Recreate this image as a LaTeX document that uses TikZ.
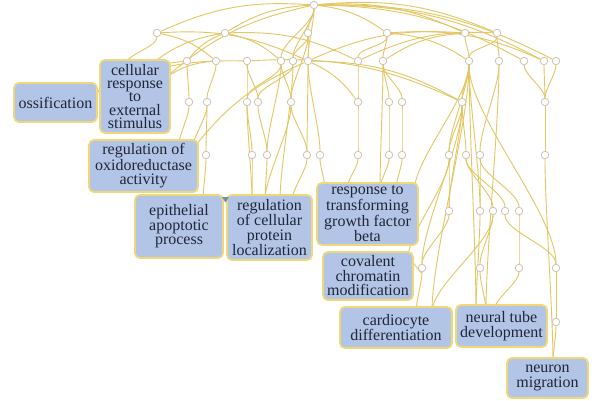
\documentclass[tikz,border=0pt]{standalone}
\usepackage{fontspec}
\setmainfont{Liberation Serif}
\usetikzlibrary{calc}
\pgfdeclarelayer{back}
\pgfdeclarelayer{bg}
\pgfsetlayers{back,bg,main}
\definecolor{boxfill}{RGB}{178,197,230}
\definecolor{boxline}{RGB}{240,216,120}
\definecolor{edgecol}{RGB}{228,198,98}
\definecolor{dotline}{RGB}{205,198,180}
\definecolor{textcol}{RGB}{32,38,54}
\definecolor{trifill}{RGB}{120,140,175}
\tikzset{
  box/.style={draw=boxline, line width=1.8pt, fill=boxfill, rounded corners=5pt,
    inner sep=0pt, align=center, text=textcol, font=\fontsize{16}{14.5}\selectfont},
  dot/.style={circle, draw=dotline, fill=white, line width=0.8pt, minimum size=7.5pt, inner sep=0pt},
  edge/.style={draw=edgecol, line width=0.9pt},
}
\newcommand\edL[2]{\draw[edge] (#1) to[bend right=14] (#2);}
\newcommand\edR[2]{\draw[edge] (#1) to[bend left=14] (#2);}
\newcommand\edV[2]{\draw[edge] (#1) to[out=-90,in=90,looseness=0.6] (#2);}
\begin{document}
\begin{tikzpicture}[x=1pt,y=1pt]
\useasboundingbox (0,0) rectangle (596,400);
\begin{pgfonlayer}{back}
\fill[white] (0,0) rectangle (596,400);
\end{pgfonlayer}
% dots
\node[dot] (r) at (314,395) {};
\foreach \n/\x in {a1/157,a2/225,a3/308,a4/387,a5/465,a6/497}
  \node[dot] (\n) at (\x,367) {};
\foreach \n/\x in {b1/187,b2/216,b3/247,b4/281,b5/293,b6/308,b7/358,b8/383,b9/469,b10/499,b11/524,b12/544,b13/556}
  \node[dot] (\n) at (\x,339) {};
\foreach \n/\x in {c1/189,c2/207,c3/247,c4/258,c5/291,c6/358,c7/389,c8/402,c9/462,c10/545}
  \node[dot] (\n) at (\x,298) {};
\foreach \n/\x in {d1/206,d2/252,d3/267,d4/307,d5/320,d6/358,d7/389,d8/402,d9/449,d10/466,d11/480,d12/545}
  \node[dot] (\n) at (\x,245) {};
\foreach \n/\x in {e1/449,e2/480,e3/493,e4/505,e5/519}
  \node[dot] (\n) at (\x,189) {};
\foreach \n/\x in {f1/422,f2/480,f3/519,f4/556}
  \node[dot] (\n) at (\x,132) {};
\node[dot] (g1) at (556,78) {};
% boxes
\node[box, minimum width=83pt, minimum height=39pt] (oss) at (55.5,297.5) {ossification};
\node[box, minimum width=70pt, minimum height=73pt, font=\fontsize{16}{13.4}\selectfont] (cel) at (135,303.5) {cellular\\response\\to\\external\\stimulus};
\node[box, minimum width=109pt, minimum height=52pt] (oxi) at (143.5,234) {regulation of\\oxidoreductase\\activity};
\node[box, minimum width=88pt, minimum height=63pt] (epi) at (179,173.5) {epithelial\\apoptotic\\process};
\node[box, minimum width=85pt, minimum height=65pt] (rcp) at (269.5,172.5) {regulation\\of cellular\\protein\\localization};
\node[box, minimum width=101pt, minimum height=62pt] (tgf) at (367.5,186) {response to\\transforming\\growth factor\\beta};
\node[box, minimum width=90pt, minimum height=48pt] (cov) at (368,124) {covalent\\chromatin\\modification};
\node[box, minimum width=112pt, minimum height=41pt] (car) at (396,72.5) {cardiocyte\\differentiation};
\node[box, minimum width=91pt, minimum height=42pt] (ntd) at (501.5,74) {neural tube\\development};
\node[box, minimum width=81pt, minimum height=40pt] (neu) at (547.5,22) {neuron\\migration};
\fill[trifill] (222,203) -- (229,203) -- (225.5,197.5) -- cycle;
% entry points
\coordinate (ossE) at (92,305);
\coordinate (celT1) at (125,335);
\coordinate (celT2) at (150,335);
\coordinate (celT3) at (165,322);
\coordinate (oxiT1) at (178,252);
\coordinate (oxiT2) at (192,250);
\coordinate (epiT) at (203,200);
\coordinate (rcpT1) at (252,200);
\coordinate (rcpT2) at (265,200);
\coordinate (rcpT3) at (280,200);
\coordinate (rcpT4) at (292,200);
\coordinate (tgfT1) at (325,212);
\coordinate (tgfT2) at (347,212);
\coordinate (tgfT3) at (380,212);
\coordinate (tgfT4) at (396,212);
\coordinate (tgfT5) at (414,208);
\coordinate (covT) at (408,142);
\coordinate (carT1) at (416,88);
\coordinate (carT2) at (432,88);
\coordinate (ntdT1) at (476,90);
\coordinate (ntdT2) at (486,90);
\coordinate (ntdT3) at (494,90);
\coordinate (neuT) at (553,38);
\begin{pgfonlayer}{bg}
\edL{r}{a1} \edL{r}{a2} \edV{r}{a3} \edR{r}{a4} \edR{r}{a5} \edR{r}{a6}
\edV{r}{b4} \edV{r}{b5} \edV{r}{b6} \edR{r}{b11} \edR{r}{b12} \edR{r}{b13} \edL{r}{celT3}
\edV{a1}{celT1} \edR{a1}{b2} \edR{a1}{b6}
\edL{a2}{b1} \edL{a2}{celT2} \edR{a2}{b4} \edR{a2}{b7}
\edV{a3}{b6} \edV{a3}{b5} \edV{a3}{c5}
\edV{a4}{b8} \edV{a4}{b7} \edR{a4}{b12} \edR{a4}{b9}
\edV{a5}{b9} \edL{a5}{b6} \edL{a5}{b8}
\edV{a6}{b10} \edV{a6}{b9} \edL{a6}{b7}
\edV{b1}{c1} \edL{b1}{ossE}
\edV{b2}{c2} \edL{b2}{celT3}
\edV{b3}{c3} \edV{b3}{c4} \edL{b3}{ossE} \edR{b3}{c9}
\edV{b4}{c5} \edV{b4}{c3} \edV{b4}{d3}
\edV{b5}{c4} \edV{b5}{rcpT3}
\edR{b6}{c6} \edV{b6}{d4} \edV{b6}{d5} \edL{b6}{oxiT2} \edR{b6}{c9}
\edV{b7}{c6}
\edV{b8}{c7} \edV{b8}{c8} \edV{b8}{tgfT3}
\edV{b9}{c9} \edV{b9}{d9} \edV{b9}{tgfT5} \edV{b9}{carT2} \edV{b9}{ntdT1} \edV{b9}{e2} \edV{b9}{f4}
\edV{b10}{d11} \edV{b10}{ntdT2}
\edV{b11}{c10} \edV{b12}{c10} \edV{b13}{c10}
\edV{c1}{oxiT1}
\edV{c2}{d1} \edV{c2}{oxiT2}
\edV{c3}{d2} \edV{c3}{rcpT1}
\edV{c4}{d3}
\edV{c5}{d4} \edV{c5}{rcpT2}
\edV{c6}{d6} \edV{c7}{d7} \edV{c8}{d8}
\edV{c9}{d9} \edV{c9}{d10} \edV{c9}{e1} \edV{c9}{f1}
\edV{c10}{d12}
\edV{d1}{epiT}
\edV{d2}{rcpT1} \edV{d3}{rcpT2} \edV{d4}{rcpT4}
\edV{d5}{tgfT1} \edV{d6}{tgfT2} \edV{d7}{tgfT3} \edV{d8}{tgfT4}
\edV{d9}{e1} \edV{d9}{covT}
\edV{d10}{e3} \edV{d10}{e4}
\edV{d11}{e2} \edV{d11}{e5}
\edV{d12}{neuT}
\edV{e1}{f1}
\edV{e2}{ntdT1} \edV{e3}{f2}
\edV{e3}{carT2}
\edV{e4}{f4}
\edV{e5}{f3}
\edV{f1}{covT} \edV{f1}{carT1}
\edV{f2}{ntdT2}
\edV{f3}{ntdT3}
\edV{f4}{g1}
\edV{g1}{neuT}
\end{pgfonlayer}
\end{tikzpicture}
\end{document}
